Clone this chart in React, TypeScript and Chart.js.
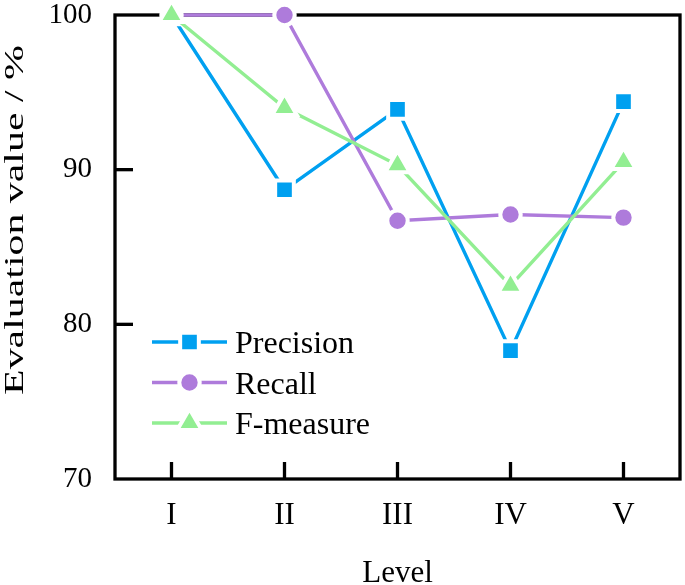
import React, { useEffect, useRef } from 'react';
import { Chart, registerables } from 'chart.js';

Chart.register(...registerables);

const levels = ['I', 'II', 'III', 'IV', 'V'];
const precision = [100, 88.7, 93.9, 78.3, 94.4];
const recall = [100, 100, 86.7, 87.1, 86.9];
const fMeasure = [100, 94.0, 90.3, 82.5, 90.5];
const yTickValues = [70, 80, 90, 100];
const seriesNames = ['Precision', 'Recall', 'F-measure'];
const seriesColors = ['#00A0F0', '#AE7BDB', '#92EE92'];
const seriesMarkers = ['rect', 'circle', 'triangle'];
const markerRadii = [13.2, 10.2, 14.2];
const xTitle = 'Level';
const yTitle = 'Evaluation value / %';

const FONT = '"Liberation Serif", "Times New Roman", serif';

function drawMarker(ctx: CanvasRenderingContext2D, style: string, x: number, y: number, r: number, fill: string) {
  ctx.beginPath();
  if (style === 'rect') {
    const s = Math.SQRT1_2 * r;
    ctx.rect(x - s, y - s, 2 * s, 2 * s);
  } else if (style === 'circle') {
    ctx.arc(x, y, r, 0, Math.PI * 2);
  } else {
    let a = 0;
    ctx.moveTo(x + Math.sin(a) * r, y - Math.cos(a) * r);
    a += (2 * Math.PI) / 3;
    ctx.lineTo(x + Math.sin(a) * r, y - Math.cos(a) * r);
    a += (2 * Math.PI) / 3;
    ctx.lineTo(x + Math.sin(a) * r, y - Math.cos(a) * r);
    ctx.closePath();
  }
  ctx.fillStyle = fill;
  ctx.fill();
  ctx.strokeStyle = '#ffffff';
  ctx.lineWidth = 4;
  ctx.stroke();
}

const zeroPad = (s: any) => {
  s.paddingTop = 0;
  s.paddingBottom = 0;
  s.paddingLeft = 0;
  s.paddingRight = 0;
};

const framePlugin = {
  id: 'frameTicks',
  beforeDatasetsDraw(chart: any) {
    const { ctx, chartArea } = chart;
    const { left, right, top, bottom } = chartArea;
    ctx.save();
    ctx.strokeStyle = '#000';
    ctx.lineWidth = 3.3;
    ctx.lineCap = 'butt';
    ctx.strokeRect(left, top, right - left, bottom - top);
    const ys = chart.scales.y;
    ys.ticks.forEach((t: any) => {
      if (t.value === ys.min || t.value === ys.max) return;
      const y = ys.getPixelForValue(t.value);
      ctx.beginPath();
      ctx.moveTo(left, y);
      ctx.lineTo(left + 18, y);
      ctx.stroke();
    });
    const xs = chart.scales.x;
    levels.forEach((_, i) => {
      const x = xs.getPixelForValue(i);
      ctx.beginPath();
      ctx.moveTo(x, bottom);
      ctx.lineTo(x, bottom - 17);
      ctx.stroke();
    });
    ctx.restore();
  },
  afterDraw(chart: any) {
    const { ctx, chartArea } = chart;
    ctx.save();
    // y-axis title
    ctx.translate(23, 220);
    ctx.rotate(-Math.PI / 2);
    ctx.scale(1.55, 1);
    ctx.font = `27px ${FONT}`;
    ctx.fillStyle = '#000';
    ctx.textAlign = 'center';
    ctx.textBaseline = 'alphabetic';
    ctx.fillText(yTitle, 0, 0);
    ctx.restore();

    // legend
    ctx.save();
    const x0 = chartArea.left + 37;
    const x1 = chartArea.left + 112;
    const xm = (x0 + x1) / 2;
    chart.data.datasets.forEach((ds: any, i: number) => {
      const y = chartArea.bottom - 137 + i * 40.5;
      ctx.strokeStyle = ds.borderColor;
      ctx.lineWidth = ds.borderWidth;
      ctx.beginPath();
      ctx.moveTo(x0, y);
      ctx.lineTo(x1, y);
      ctx.stroke();
      drawMarker(ctx, ds.pointStyle, xm, y, ds.pointRadius, ds.backgroundColor);
      ctx.fillStyle = '#000';
      ctx.font = `32px ${FONT}`;
      ctx.textAlign = 'left';
      ctx.textBaseline = 'alphabetic';
      ctx.fillText(ds.label, x1 + 8, y + 11);
    });
    ctx.restore();
  },
};

export default function App() {
  const canvasRef = useRef<HTMLCanvasElement | null>(null);

  useEffect(() => {
    if (!canvasRef.current) return;
    const seriesData = [precision, recall, fMeasure];
    const chart = new Chart(canvasRef.current, {
      type: 'line',
      data: {
        labels: levels,
        datasets: seriesData.map((d, i) => ({
          label: seriesNames[i],
          data: d,
          borderColor: seriesColors[i],
          backgroundColor: seriesColors[i],
          borderWidth: 3.4,
          pointStyle: seriesMarkers[i] as any,
          pointRadius: markerRadii[i],
          pointHoverRadius: markerRadii[i],
          pointBackgroundColor: seriesColors[i],
          pointBorderColor: '#ffffff',
          pointBorderWidth: 4,
          tension: 0,
          clip: false as any,
          order: 2 - i,
        })),
      },
      options: {
        animation: false,
        responsive: false,
        devicePixelRatio: 1,
        layout: { autoPadding: false, padding: { top: 15, right: 5, left: 0, bottom: 0 } },
        plugins: {
          legend: { display: false },
          tooltip: { enabled: false },
        },
        scales: {
          x: {
            type: 'category',
            offset: true,
            grid: { display: false, drawTicks: false },
            border: { display: false },
            ticks: {
              color: '#000',
              font: { family: FONT, size: 31 },
              padding: 18,
              autoSkip: false,
              maxRotation: 0,
            },
            title: {
              display: true,
              text: xTitle,
              color: '#000',
              font: { family: FONT, size: 31, lineHeight: 1 },
              padding: { top: 0, bottom: -4 },
            },
            afterFit: (s: any) => {
              s.height = 106;
              zeroPad(s);
            },
          },
          y: {
            min: 70,
            max: 100,
            afterBuildTicks: (s: any) => {
              s.ticks = yTickValues.map((v) => ({ value: v }));
            },
            grid: { display: false, drawTicks: false },
            border: { display: false },
            ticks: {
              color: '#000',
              font: { family: FONT, size: 29 },
              padding: 23,
            },
            afterFit: (s: any) => {
              s.width = 115;
              zeroPad(s);
            },
          },
        },
      },
      plugins: [framePlugin],
    });
    return () => chart.destroy();
  }, []);

  return (
    <div style={{ position: 'fixed', left: 0, top: 0, width: 685, height: 585, overflow: 'hidden' }}>
      <canvas ref={canvasRef} width={685} height={585} style={{ display: 'block', width: 685, height: 585 }} />
    </div>
  );
}
